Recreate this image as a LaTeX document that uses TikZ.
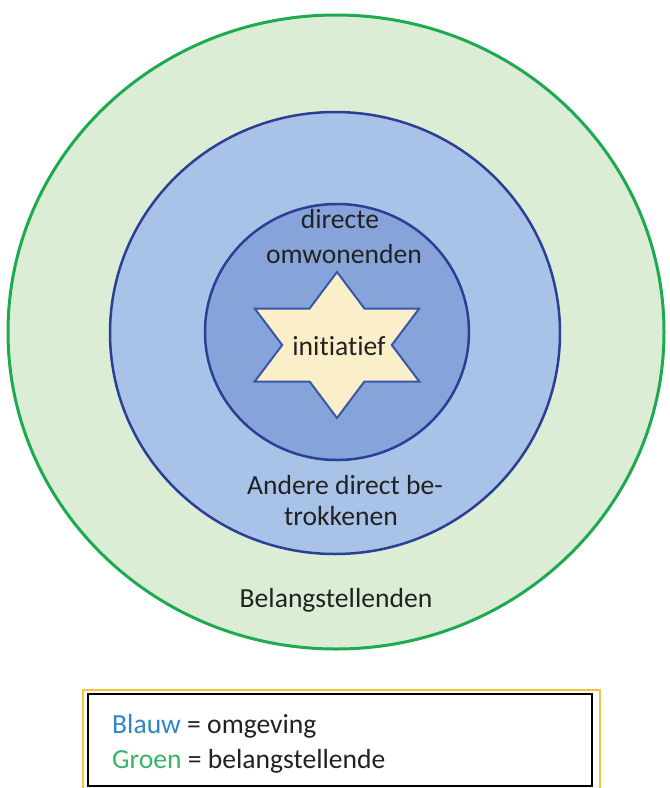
\documentclass[tikz,border=0pt]{standalone}
\usepackage{fontspec}
\setmainfont{Carlito}[RawFeature={-liga}]
\definecolor{gfill}{HTML}{DCEDD5}
\definecolor{gline}{HTML}{1EAA4E}
\definecolor{bfill}{HTML}{A9C3E8}
\definecolor{bline}{HTML}{2C3F96}
\definecolor{ifill}{HTML}{87A4DA}
\definecolor{sfill}{HTML}{FAEFC8}
\definecolor{sline}{HTML}{3B55A8}
\definecolor{txt}{HTML}{222222}
\definecolor{blauw}{HTML}{2E86C9}
\definecolor{groen}{HTML}{36B46A}
\definecolor{orangeline}{HTML}{F5C242}
\begin{document}
\begin{tikzpicture}[x=1pt,y=-1pt,
  lbl/.style={font=\fontsize{27.6}{34}\selectfont, text=txt, inner sep=0pt, anchor=base},
  ring/.style={line width=2.5pt}]
\useasboundingbox (0,0) rectangle (670,788);
\fill[white] (0,0) rectangle (670,788);
% rings
\filldraw[ring, fill=gfill, draw=gline, line width=3pt] (336,332) ellipse [x radius=328pt, y radius=317pt];
\filldraw[ring, fill=bfill, draw=bline] (335,333) ellipse [x radius=225pt, y radius=221pt];
\filldraw[ring, fill=ifill, draw=bline] (337,332) ellipse [x radius=132pt, y radius=128pt];
% star
\filldraw[fill=sfill, draw=sline, line width=2pt]
  (337,272) -- (364.4,308.5) -- (419.3,308.5) -- (391.8,345) -- (419.3,381.5) -- (364.4,381.5)
  -- (337,418) -- (309.6,381.5) -- (254.7,381.5) -- (282.2,345) -- (254.7,308.5) -- (309.6,308.5) -- cycle;
% labels
\node[lbl] (l1) at (340,228) {directe};
\node[lbl] (l2) at (344,263) {omwonenden};
\node[lbl] (ini) at (339,355) {initiatief};
\node[lbl] (a1) at (345,494) {Andere direct be-};
\node[lbl] (a2) at (341,525) {trokkenen};
\node[lbl] (bel) at (336,607) {Belangstellenden};
% legend
\draw[orangeline, line width=1.2pt] (83,690) rectangle (600,800);
\draw[black, line width=2pt] (88,694) rectangle (592,786);
\node[lbl, anchor=base west] (lg1) at (112,733) {\textcolor{blauw}{Blauw} = omgeving};
\node[lbl, anchor=base west] (lg2) at (112,768) {\textcolor{groen}{Groen} = belangstellende};
\end{tikzpicture}
\end{document}
